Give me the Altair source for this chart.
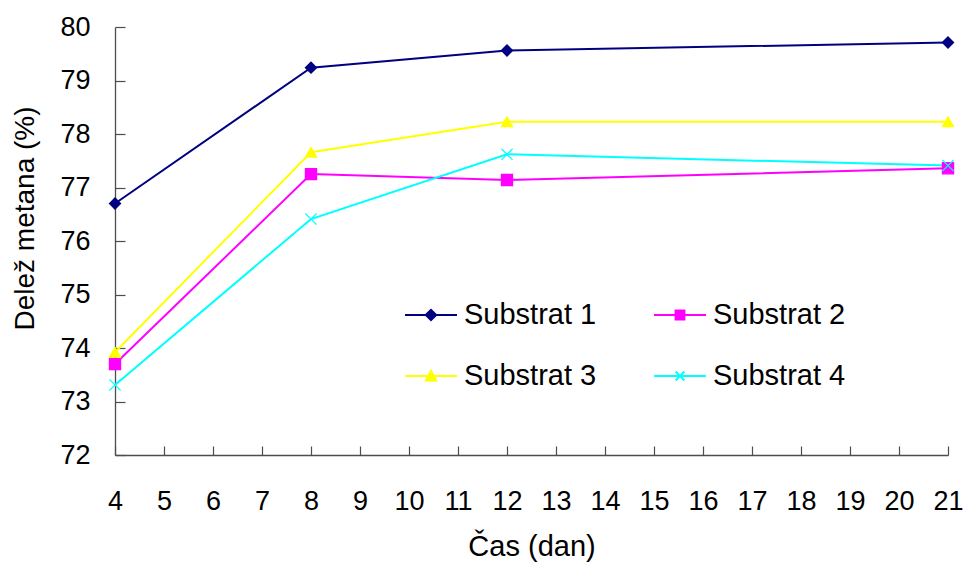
import altair as alt
import pandas as pd

days = [4, 8, 12, 21]
series_names = ["Substrat 1", "Substrat 2", "Substrat 3", "Substrat 4"]
substrat_1 = [76.70, 79.24, 79.56, 79.71]
substrat_2 = [73.70, 77.25, 77.14, 77.36]
substrat_3 = [73.92, 77.66, 78.23, 78.23]
substrat_4 = [73.31, 76.41, 77.62, 77.41]
x_ticks = list(range(4, 22))
y_ticks = list(range(72, 81))
colors = ["#000080", "#FF00FF", "#FFFF00", "#00FFFF"]
plot_shapes = ["diamond", "square", "triangle-up", "M-1,-1L1,1M-1,1L1,-1"]
legend_shapes = [
    "M-1,0L1,0M-0.2,0L0,-0.2L0.2,0L0,0.2Z",
    "M-1,0L1,0M-0.17,-0.17L0.17,-0.17L0.17,0.17L-0.17,0.17Z",
    "M-1,0L1,0M-0.2,0.17L0,-0.2L0.2,0.17Z",
    "M-1,0L1,0M-0.17,-0.17L0.17,0.17M-0.17,0.17L0.17,-0.17",
]

rows = []
for name, vals in zip(series_names, [substrat_1, substrat_2, substrat_3, substrat_4]):
    for d, v in zip(days, vals):
        rows.append({"day": d, "value": v, "series": name, "leg": name})
df = pd.DataFrame(rows)

W, H = 833, 428
FONT = "Liberation Sans"
AX = "#4d4d4d"

xs = alt.Scale(domain=[4, 21], nice=False, zero=False)
ys = alt.Scale(domain=[72, 80], nice=False, zero=False)

base = alt.Chart(df)

lines = base.mark_line(strokeWidth=2).encode(
    x=alt.X("day:Q", scale=xs, axis=alt.Axis(
        values=x_ticks, format="d", title="Čas (dan)", grid=False, ticks=False, tickSize=0,
        domainColor=AX, domainWidth=1.3, labelFont=FONT, labelFontSize=27, labelColor="black",
        labelPadding=33, labelFlush=False, labelOverlap=False,
        titleFont=FONT, titleFontSize=29, titleFontWeight="normal", titleColor="black",
        titlePadding=18)),
    y=alt.Y("value:Q", scale=ys, axis=alt.Axis(
        values=y_ticks, format="d", title="Delež metana (%)", grid=False, ticks=False, tickSize=0,
        domainColor=AX, domainWidth=1.3, labelFont=FONT, labelFontSize=27, labelColor="black",
        labelPadding=25, labelFlush=False, labelOverlap=False,
        titleFont=FONT, titleFontSize=28, titleFontWeight="normal", titleColor="black",
        titlePadding=20, titleY=191)),
    stroke=alt.Stroke("series:N", scale=alt.Scale(domain=series_names, range=colors), legend=None),
)

points = base.mark_point(filled=True, opacity=1, strokeWidth=1.2, size=125).encode(
    x=alt.X("day:Q", scale=xs, axis=alt.Axis(
        orient="top", offset=-H, values=x_ticks, labels=False, domain=False, grid=False,
        ticks=True, tickSize=9, tickColor=AX, tickWidth=1.2, title=None)),
    y=alt.Y("value:Q", scale=ys, axis=alt.Axis(
        orient="right", offset=-W, values=y_ticks, labels=False, domain=False, grid=False,
        ticks=True, tickSize=10, tickColor=AX, tickWidth=1.2, title=None)),
    fill=alt.Fill("series:N", scale=alt.Scale(domain=series_names, range=colors), legend=None),
    stroke=alt.Stroke("series:N", scale=alt.Scale(domain=series_names, range=colors), legend=None),
    shape=alt.Shape("series:N", scale=alt.Scale(domain=series_names, range=plot_shapes), legend=None),
)

leg = dict(
    title=None, orient="none", legendX=289, legendY=261, columns=2, direction="horizontal",
    padding=0, symbolSize=2704, symbolStrokeWidth=2, labelFont=FONT, labelFontSize=29,
    labelColor="black", labelOffset=6, columnPadding=53, rowPadding=19,
)

legend_layer = base.transform_filter("datum.day < 0").mark_point(
    filled=True, opacity=1, strokeWidth=2
).encode(
    fill=alt.Fill("leg:N", scale=alt.Scale(domain=series_names, range=colors), legend=alt.Legend(**leg)),
    stroke=alt.Stroke("leg:N", scale=alt.Scale(domain=series_names, range=colors), legend=alt.Legend(**leg)),
    shape=alt.Shape("leg:N", scale=alt.Scale(domain=series_names, range=legend_shapes), legend=alt.Legend(**leg)),
)

chart = alt.layer(lines, points, legend_layer).resolve_scale(
    fill="independent", stroke="independent", shape="independent"
).resolve_axis(
    x="independent", y="independent"
).properties(
    width=W, height=H,
    autosize=alt.AutoSizeParams(type="none"),
    padding={"left": 115, "top": 27, "right": 17, "bottom": 108},
    background="white",
).configure_view(strokeWidth=0)

chart.save("out.html", embed_options={"renderer": "svg", "actions": False})
